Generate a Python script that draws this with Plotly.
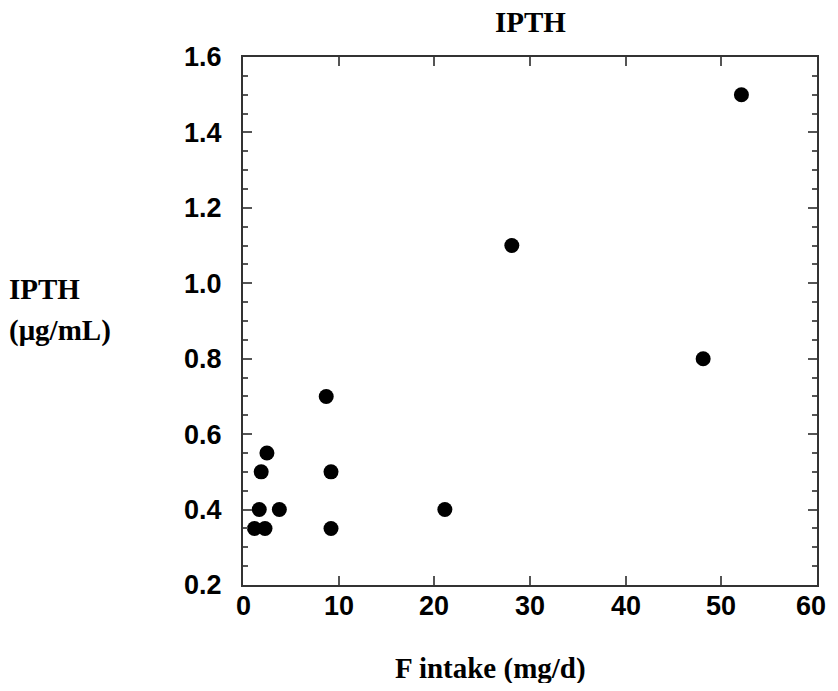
import plotly.graph_objects as go

f_intake = [1.2, 2.3, 1.7, 1.9, 2.5, 3.8, 8.7, 9.2, 9.2, 21.1, 28.1, 48.1, 52.1]
ipth = [0.35, 0.35, 0.40, 0.50, 0.55, 0.40, 0.70, 0.50, 0.35, 0.40, 1.10, 0.80, 1.50]

x_ticks = [0, 10, 20, 30, 40, 50, 60]
y_ticks = [0.2, 0.4, 0.6, 0.8, 1.0, 1.2, 1.4, 1.6]

# page body has an 8px margin on every side; size the figure so the page does not overflow
OFF = 8
W, H = 838 - 2 * OFF, 691 - 2 * OFF
# target plot area in page pixels: x 243..819, y 57..585
L = 243 - OFF
R = (OFF + W) - 819
T = 57 - OFF
B = (OFF + H) - 585
pw, ph = W - L - R, H - T - B

def px(x):  # page pixel -> paper x
    return (x - OFF - L) / pw

def py(y):  # page pixel -> paper y
    return (H - B - (y - OFF)) / ph

fig = go.Figure(go.Scatter(
    x=f_intake, y=ipth, mode="markers",
    marker=dict(color="black", size=15, line=dict(width=0)),
    showlegend=False,
))

tick_font = dict(family="Liberation Sans, Arial", size=27, color="black", weight="bold")
serif = "Liberation Serif, Times New Roman"

fig.update_xaxes(
    range=[0, 60], tickvals=x_ticks, showticklabels=False,
    showline=True, linecolor="#333", linewidth=2, mirror="ticks",
    ticks="inside", ticklen=9, tickwidth=2, tickcolor="#555",
    showgrid=False, zeroline=False,
)
fig.update_yaxes(
    range=[0.2, 1.6], tickvals=y_ticks, ticktext=[f"{v:.1f}" for v in y_ticks],
    showline=True, linecolor="#333", linewidth=2, mirror="ticks",
    ticks="inside", ticklen=9, tickwidth=2, tickcolor="#555",
    minor=dict(dtick=0.05, ticks="inside", ticklen=5, tickwidth=2, tickcolor="#555"),
    showgrid=False, zeroline=False, tickfont=tick_font, ticklabelstandoff=14,
)

# x tick labels placed on the x axis scale; the last one is kept inside the page edge
x_label_anns = []
for i, v in enumerate(x_ticks):
    last = i == len(x_ticks) - 1
    x_label_anns.append(dict(
        text=str(v),
        x=px(830) if last else v, xref="paper" if last else "x",
        xanchor="right" if last else "center",
        y=py(606), yref="paper", yanchor="middle",
        showarrow=False, font=tick_font,
    ))

ann_font = dict(family=serif, size=29, color="black", weight="bold")
fig.update_layout(
    width=W, height=H,
    margin=dict(l=L, r=R, t=T, b=B),
    plot_bgcolor="white", paper_bgcolor="white",
    annotations=x_label_anns + [
        dict(text="IPTH", x=px(532), y=py(22), xref="paper", yref="paper",
             xanchor="center", yanchor="middle", showarrow=False, font=ann_font),
        dict(text="F intake (mg/d)", x=px(491), y=py(668), xref="paper", yref="paper",
             xanchor="center", yanchor="middle", showarrow=False, font=ann_font),
        dict(text="IPTH", x=px(6), y=py(289), xref="paper", yref="paper",
             xanchor="left", yanchor="middle", showarrow=False, font=ann_font),
        dict(text="(μg/mL)", x=px(6), y=py(330), xref="paper", yref="paper",
             xanchor="left", yanchor="middle", showarrow=False, font=ann_font),
    ],
)

fig.write_html("out.html", config={"displayModeBar": False})
